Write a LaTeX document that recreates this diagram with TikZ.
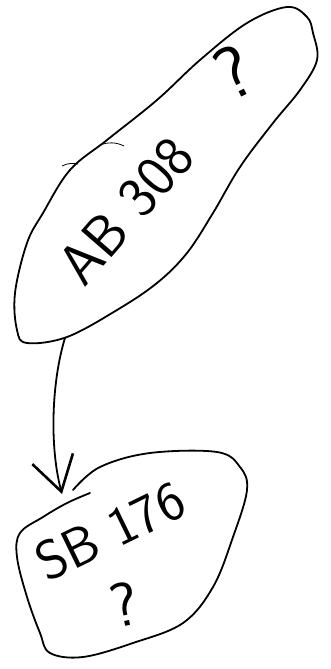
\documentclass[tikz,border=0pt]{standalone}
\usetikzlibrary{arrows.meta}
\begin{document}
\begin{tikzpicture}[x=1pt,y=-1pt,
  ink/.style={line width=1.8pt,line cap=round,line join=round},
  hand/.style={font=\sffamily\fontsize{#1}{#1}\selectfont,inner sep=0pt}]
\useasboundingbox (0,0) rectangle (331,669);
% top blob
\draw[ink] plot[smooth cycle,tension=0.6] coordinates {
 (287,7) (307,17) (313,33) (317,60) (300,90) (273,123) (240,167) (213,213)
 (187,253) (157,283) (117,310) (67,337) (27,343) (17,330) (15,293) (27,243)
 (43,213) (70,170) (107,140) (157,100) (200,60) (247,23)};
\draw[line width=0.8pt] (62,166) .. controls (68,163) and (73,163) .. (78,164);
\draw[line width=0.8pt] (100,145) .. controls (108,142) and (116,142) .. (124,146);
% labels top
\node[hand=58,rotate=49] (ab) at (126,211) {AB 308};
\node[hand=74,rotate=26] (q1) at (234,72) {?};
% bottom blob
\draw[ink] plot[smooth,tension=0.6] coordinates {
 (73,490) (100,467) (150,453) (217,452) (240,467) (247,490) (233,537)
 (213,587) (183,623) (133,643) (83,657) (50,653) (40,633) (27,597)
 (17,557) (20,533) (43,517) (67,503) (90,493)};
\node[hand=55,rotate=26] (sb) at (110,531) {SB 176};
\node[hand=62,rotate=12] (q2) at (124,604) {?};
% arrow
\coordinate (arrstart) at (65,338);
\coordinate (arrend) at (62,494);
\draw[ink,-{Straight Barb[length=34pt,width=42pt,line width=2.6pt]}]
  (arrstart) .. controls (52,380) and (49,445) .. (arrend);
\end{tikzpicture}
\end{document}
